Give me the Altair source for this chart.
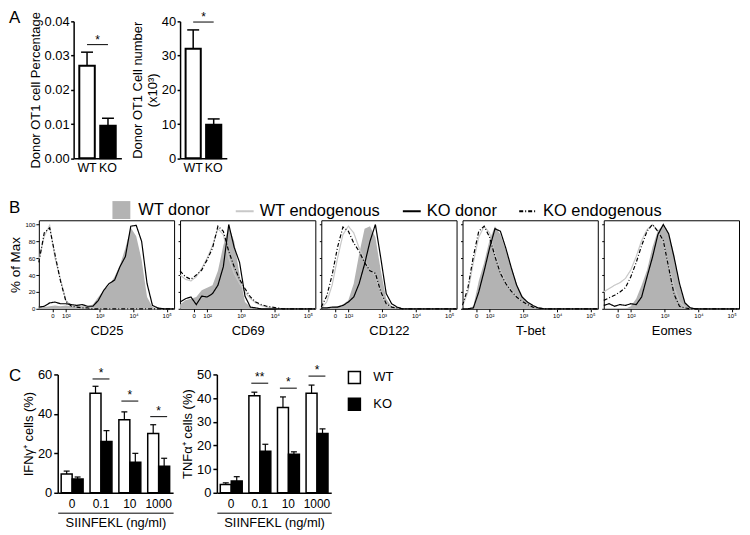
import altair as alt
import pandas as pd

FONT = "Liberation Sans"

# ---------------- Panel A data ----------------
genotypes = ["WT", "KO"]
pct_mean = [0.027, 0.0095]
pct_top = [0.031, 0.0117]
pct_sig = [0.0332]
num_mean = [32.0, 9.8]
num_top = [37.5, 11.5]
num_sig = [39.8]

# ---------------- Panel B data ----------------
hist_x = [0, 4, 8, 12, 16, 20, 24, 28, 32, 36, 40, 44, 48, 52, 56, 60, 64, 68, 72, 76, 80, 84, 88, 92, 96, 100]
markers = ["CD25", "CD69", "CD122", "T-bet", "Eomes"]
series_names = ["WT donor", "WT endogenous", "KO donor", "KO endogenous"]
line_series = ["WT endogenous", "KO donor", "KO endogenous"]
xtick_pos = [10, 20, 45, 70, 94.5]
xtick_labels = ["0", "10\u00b2", "10\u00b3", "10\u2074", "10\u2075"]

cd25_wt_donor = [3, 2, 3, 4, 3, 4, 3, 4, 3, 3, 5, 14, 22, 28, 38, 52, 72, 96, 86, 58, 14, 2, 0, 0, 0, 0]
cd25_wt_endo = [57, 86, 99, 60, 35, 10, 3, 2, 2, 1, 1, 0, 0, 0, 0, 0, 0, 0, 0, 0, 0, 0, 0, 0, 0, 0]
cd25_ko_donor = [2, 3, 7, 8, 6, 6, 5, 4, 5, 3, 3, 10, 22, 30, 34, 50, 62, 98, 99, 80, 30, 4, 1, 0, 0, 0]
cd25_ko_endo = [55, 90, 96, 64, 33, 9, 3, 2, 1, 1, 0, 0, 0, 0, 0, 0, 0, 0, 0, 0, 0, 0, 0, 0, 0, 0]

cd69_wt_donor = [5, 10, 12, 14, 22, 25, 28, 45, 75, 98, 80, 40, 8, 2, 0, 0, 0, 0, 0, 0, 0, 0, 0, 0, 0, 0]
cd69_wt_endo = [40, 35, 33, 38, 48, 60, 75, 95, 88, 60, 42, 30, 20, 12, 7, 4, 2, 1, 0, 0, 0, 0, 0, 0, 0, 0]
cd69_ko_donor = [8, 12, 14, 5, 15, 14, 18, 28, 50, 100, 73, 55, 15, 2, 1, 0, 0, 0, 0, 0, 0, 0, 0, 0, 0, 0]
cd69_ko_endo = [45, 38, 35, 40, 46, 58, 72, 98, 92, 68, 50, 35, 24, 14, 8, 5, 3, 2, 1, 0, 0, 0, 0, 0, 0, 0]

cd122_wt_donor = [0, 1, 2, 3, 5, 10, 30, 65, 95, 98, 85, 45, 12, 3, 1, 0, 0, 0, 0, 0, 0, 0, 0, 0, 0, 0]
cd122_wt_endo = [1, 8, 28, 60, 88, 98, 90, 72, 58, 46, 40, 18, 5, 2, 1, 0, 0, 0, 0, 0, 0, 0, 0, 0, 0, 0]
cd122_ko_donor = [1, 1, 2, 2, 4, 8, 14, 30, 53, 80, 100, 60, 18, 6, 2, 0, 0, 0, 0, 0, 0, 0, 0, 0, 0, 0]
cd122_ko_endo = [2, 15, 40, 73, 97, 92, 78, 68, 55, 45, 42, 20, 6, 2, 1, 0, 0, 0, 0, 0, 0, 0, 0, 0, 0, 0]

tbet_wt_donor = [0, 0, 3, 33, 55, 82, 98, 88, 70, 50, 30, 16, 8, 3, 1, 0, 0, 0, 0, 0, 0, 0, 0, 0, 0, 0]
tbet_wt_endo = [3, 20, 55, 85, 98, 90, 65, 45, 32, 22, 15, 9, 5, 2, 1, 0, 0, 0, 0, 0, 0, 0, 0, 0, 0, 0]
tbet_ko_donor = [0, 0, 1, 20, 45, 72, 95, 92, 72, 49, 28, 14, 8, 4, 1, 0, 0, 0, 0, 0, 0, 0, 0, 0, 0, 0]
tbet_ko_endo = [4, 25, 62, 92, 98, 85, 62, 42, 30, 21, 14, 9, 5, 2, 1, 0, 0, 0, 0, 0, 0, 0, 0, 0, 0, 0]

eomes_wt_donor = [0, 0, 0, 0, 0, 3, 12, 28, 46, 73, 93, 99, 90, 65, 28, 8, 2, 0, 0, 0, 0, 0, 0, 0, 0, 0]
eomes_wt_endo = [20, 24, 28, 31, 36, 46, 62, 81, 94, 100, 92, 78, 52, 25, 8, 2, 0, 0, 0, 0, 0, 0, 0, 0, 0, 0]
eomes_ko_donor = [4, 6, 3, 5, 4, 6, 5, 14, 38, 61, 88, 100, 89, 61, 30, 7, 1, 0, 0, 0, 0, 0, 0, 0, 0, 0]
eomes_ko_endo = [10, 13, 16, 20, 25, 38, 55, 75, 92, 100, 92, 81, 49, 17, 3, 1, 0, 0, 0, 0, 0, 0, 0, 0, 0, 0]

# ---------------- Panel C data ----------------
doses = ["0", "0.1", "10", "1000"]
ifn_wt = [9.5, 50.5, 37.0, 30.0]
ifn_wt_top = [11.0, 54.0, 41.0, 34.5]
ifn_ko = [7.0, 26.0, 15.5, 13.5]
ifn_ko_top = [8.0, 31.5, 20.0, 17.5]
ifn_sig_doses = ["0.1", "10", "1000"]
ifn_sig_y = [57.7, 46.5, 38.6]
ifn_sig_text = ["*", "*", "*"]
tnf_wt = [3.5, 41.0, 36.0, 42.0]
tnf_wt_top = [4.2, 42.5, 40.5, 45.5]
tnf_ko = [5.0, 17.5, 16.3, 25.0]
tnf_ko_top = [6.8, 20.5, 17.3, 27.0]
tnf_sig_doses = ["0.1", "10", "1000"]
tnf_sig_y = [46.3, 44.2, 49.3]
tnf_sig_text = ["**", "*", "*"]


# ---------------- helpers ----------------
def ind(c):
    return c.resolve_scale(fill="independent", stroke="independent", strokeDash="independent")


def blank(w, h, letter=None, dy=0):
    c = alt.Chart(pd.DataFrame({"v": [0]})).mark_point(opacity=0)
    if letter:
        return c.properties(width=w, height=h,
                            title=alt.TitleParams(letter, anchor="start", fontSize=17, fontWeight="normal",
                                                  font=FONT, offset=0, dy=dy, baseline="middle",
                                                  color="black"))
    return c.properties(width=w, height=h)


def a_chart(means, tops, sig, ymax, yvals, yfmt, ytitle, width, height):
    df = pd.DataFrame({"g": genotypes, "mean": means, "top": tops})
    sdf = pd.DataFrame({"x1": [genotypes[0]], "x2": [genotypes[1]], "sig": sig, "label": ["*"]})
    xscale = alt.Scale(domain=genotypes, paddingInner=0.26, paddingOuter=0.27)
    xaxis = alt.Axis(title=None, labelAngle=0, ticks=False, labelFontSize=12.5, labelPadding=3,
                     domainWidth=1.5)
    yscale = alt.Scale(domain=[0, ymax], nice=False)
    yaxis = alt.Axis(values=yvals, format=yfmt, title=ytitle, labelFontSize=13, titleFontSize=13,
                     tickSize=3, tickWidth=1.5, domainWidth=1.5, labelPadding=1.5, titlePadding=2,
                     titleLineHeight=15)

    def X(f):
        return alt.X(f"{f}:N", scale=xscale, axis=xaxis, sort=genotypes)

    def Y(f):
        return alt.Y(f"{f}:Q", scale=yscale, axis=yaxis)

    bars = alt.Chart(df).mark_bar(stroke="black", strokeWidth=2).encode(
        x=X("g"), y=Y("mean"),
        fill=alt.Fill("g:N", scale=alt.Scale(domain=genotypes, range=["white", "black"]), legend=None))
    err = alt.Chart(df).mark_rule(color="black", strokeWidth=1.5).encode(x=X("g"), y=Y("mean"), y2="top:Q")
    cap = alt.Chart(df).mark_tick(color="black", opacity=1, orient="horizontal", size=12, thickness=1.5).encode(
        x=X("g"), y=Y("top"))
    line = alt.Chart(sdf).mark_rule(color="black", strokeWidth=1).encode(x=X("x1"), x2="x2:N", y=Y("sig"))
    star = alt.Chart(sdf).mark_text(fontSize=12, baseline="alphabetic", dy=-1, dx=10.5, fill="black").encode(
        x=X("x1"), y=Y("sig"), text="label:N")
    return alt.layer(bars, err, cap, line, star).properties(width=width, height=height)


donor_fill = alt.Scale(domain=["WT donor"], range=["#b3b3b3"])
line_stroke = alt.Scale(domain=line_series, range=["#c8c8c8", "black", "black"])
line_dash = alt.Scale(domain=line_series, range=[[1, 0], [1, 0], [4, 2, 1, 2]])

hist_values = {
    "CD25": [cd25_wt_donor, cd25_wt_endo, cd25_ko_donor, cd25_ko_endo],
    "CD69": [cd69_wt_donor, cd69_wt_endo, cd69_ko_donor, cd69_ko_endo],
    "CD122": [cd122_wt_donor, cd122_wt_endo, cd122_ko_donor, cd122_ko_endo],
    "T-bet": [tbet_wt_donor, tbet_wt_endo, tbet_ko_donor, tbet_ko_endo],
    "Eomes": [eomes_wt_donor, eomes_wt_endo, eomes_ko_donor, eomes_ko_endo],
}
rows = []
for m in markers:
    for s, ys in zip(series_names, hist_values[m]):
        for xv, yv in zip(hist_x, ys):
            rows.append({"marker": m, "series": s, "x": xv, "y": yv})
hist_df = pd.DataFrame(rows)

label_expr = ""
for p, l in zip(xtick_pos, xtick_labels):
    label_expr += f"datum.value == {p} ? '{l}' : "
label_expr += "''"

PW, PH = 136, 89


def hist_panel(marker, first):
    sub = hist_df[hist_df["marker"] == marker]
    xaxis = alt.Axis(values=xtick_pos, labelExpr=label_expr, title=marker, labelFontSize=6,
                     tickSize=3, labelPadding=1, titleFontSize=13, titlePadding=6, domain=False,
                     labelFlush=False, labelOverlap=False)
    if first:
        yaxis = alt.Axis(values=[0, 20, 40, 60, 80, 100], labelFontSize=6, tickSize=3, labelPadding=1,
                         title="% of Max", titleFontSize=13.5, titlePadding=2, domain=False)
    else:
        yaxis = alt.Axis(values=[0, 20, 40, 60, 80, 100], labels=False, tickSize=2, title=None, domain=False)
    xenc = alt.X("x:Q", scale=alt.Scale(domain=[0, 100], nice=False, zero=False), axis=xaxis)
    yenc = alt.Y("y:Q", scale=alt.Scale(domain=[0, 105], nice=False), axis=yaxis)
    if first:
        leg_fill = alt.Legend(orient="none", legendX=74, legendY=-19.3, title=None, symbolType="square",
                              symbolSize=324, symbolStrokeWidth=0, labelFontSize=16.5, labelFont=FONT,
                              labelColor="black", labelOffset=8, padding=0)
        leg_line = alt.Legend(orient="none", legendX=197, legendY=-19.3, direction="horizontal", title=None,
                              symbolType="stroke", symbolSize=324, symbolStrokeWidth=2, labelFontSize=16.5,
                              labelFont=FONT, labelColor="black", labelOffset=5, columnPadding=18, padding=0)
    else:
        leg_fill = None
        leg_line = None
    area = alt.Chart(sub[sub["series"] == "WT donor"]).mark_area(opacity=1).encode(
        x=xenc, y=yenc, fill=alt.Fill("series:N", scale=donor_fill, legend=leg_fill))
    lines = alt.Chart(sub[sub["series"] != "WT donor"]).mark_line(strokeWidth=1.2).encode(
        x=xenc, y=yenc,
        stroke=alt.Stroke("series:N", scale=line_stroke, legend=leg_line),
        strokeDash=alt.StrokeDash("series:N", scale=line_dash, legend=leg_line))
    return alt.layer(area, lines).properties(width=PW, height=PH,
                                             view=alt.ViewBackground(stroke="black", strokeWidth=1))


def c_chart(wt, wt_top, ko, ko_top, sig_doses, sig_y, sig_text, ymax, yvals, ytitle, width, height, legend):
    df = pd.DataFrame({"dose": doses * 2, "g": ["WT"] * 4 + ["KO"] * 4,
                       "mean": wt + ko, "top": wt_top + ko_top})
    sdf = pd.DataFrame({"dose": sig_doses, "sig": sig_y, "label": sig_text})
    xscale = alt.Scale(domain=doses, paddingInner=0.24, paddingOuter=0.12)
    xaxis = alt.Axis(title=None, labelAngle=0, ticks=False, labelFontSize=12, labelPadding=6,
                     domainWidth=1.5, orient="bottom")
    yscale = alt.Scale(domain=[0, ymax], nice=False)
    yaxis = alt.Axis(values=yvals, title=ytitle, labelFontSize=13, titleFontSize=13, tickSize=4,
                     tickWidth=1.5, domainWidth=1.5, labelPadding=2, titlePadding=2)
    X = alt.X("dose:N", scale=xscale, axis=xaxis, sort=doses)
    XO = alt.XOffset("g:N", scale=alt.Scale(domain=genotypes, paddingInner=0, paddingOuter=0), sort=genotypes)

    def Y(f):
        return alt.Y(f"{f}:Q", scale=yscale, axis=yaxis)

    bars = alt.Chart(df).mark_bar(stroke="black", strokeWidth=1.5).encode(
        x=X, xOffset=XO, y=Y("mean"),
        fill=alt.Fill("g:N", scale=alt.Scale(domain=genotypes, range=["white", "black"]), legend=legend))
    err = alt.Chart(df).mark_rule(color="black", strokeWidth=1.2).encode(x=X, xOffset=XO, y=Y("mean"), y2="top:Q")
    cap = alt.Chart(df).mark_tick(color="black", opacity=1, orient="horizontal", size=6, thickness=1.2).encode(
        x=X, xOffset=XO, y=Y("top"))
    sig = alt.Chart(sdf).mark_tick(color="black", opacity=1, orient="horizontal", size=17, thickness=1).encode(
        x=X, y=Y("sig"))
    star = alt.Chart(sdf).mark_text(fontSize=12, baseline="alphabetic", dy=-2, fill="black").encode(
        x=X, y=Y("sig"), text="label:N")
    X2 = alt.X("dose:N", scale=xscale, sort=doses,
               axis=alt.Axis(orient="bottom", offset=20, labels=False, ticks=False, domain=True,
                             domainWidth=1, title="SIINFEKL (ng/ml)", titleFontSize=13, titlePadding=4))
    ax2 = alt.Chart(df).mark_point(opacity=0).encode(x=X2, y=Y("mean"))
    return alt.layer(alt.layer(bars, err, cap, sig, star), ax2).resolve_scale(x="independent").properties(
        width=width, height=height)


# ---------------- assemble ----------------
HA, HB, HC = 137.7, PH, 119

a1 = a_chart(pct_mean, pct_top, pct_sig, 0.04, [0, 0.01, 0.02, 0.03, 0.04], ".2f",
             "Donor OT1 cell Percentage", 48, HA)
a2 = a_chart(num_mean, num_top, num_sig, 40, [0, 10, 20, 30, 40], "d",
             ["Donor OT1 Cell number", "(x10\u00b3)"], 47, HA)

panels = [hist_panel(m, i == 0) for i, m in enumerate(markers)]

c_legend = alt.Legend(orient="none", legendX=131.3, legendY=-4, direction="vertical", title=None,
                      symbolType="square", symbolSize=144, symbolStrokeColor="black", symbolStrokeWidth=1.5,
                      labelFontSize=13, labelOffset=12, rowPadding=9, padding=0, labelColor="black")
c1 = c_chart(ifn_wt, ifn_wt_top, ifn_ko, ifn_ko_top, ifn_sig_doses, ifn_sig_y, ifn_sig_text,
             60, [0, 20, 40, 60], "IFN\u03b3\u207a cells (%)", 116, HC, None)
c2 = c_chart(tnf_wt, tnf_wt_top, tnf_ko, tnf_ko_top, tnf_sig_doses, tnf_sig_y, tnf_sig_text,
             50, [0, 10, 20, 30, 40, 50], "TNF\u03b1\u207a cells (%)", 115, HC, c_legend)

GB = 5.5
rowA = ind(alt.hconcat(blank(64.7, 177.4, "A", 14), a1, blank(58.3, 1), a2,
                       spacing=0, bounds="flush"))
rowB = ind(alt.hconcat(blank(30, 143.6, "B", 4.2), panels[0], blank(GB, 1), panels[1], blank(GB, 1),
                       panels[2], blank(GB, 1), panels[3], blank(GB, 1), panels[4],
                       spacing=0, bounds="flush"))
rowC = ind(alt.hconcat(blank(48.7, HC, "C", 18.8), c1, blank(44, 1), c2, spacing=0, bounds="flush"))

top = ind(alt.vconcat(rowA, rowB, rowC, spacing=0, bounds="full"))

chart = top.properties(
    padding={"left": 0, "top": 0, "right": 0, "bottom": 0}
).configure(font=FONT).configure_view(stroke="transparent").configure_axis(
    grid=False, domainColor="black", tickColor="black", labelColor="black", titleColor="black",
    titleFontWeight="normal", labelFont=FONT, titleFont=FONT
).configure_text(font=FONT)

chart.save("out.html", embed_options={"renderer": "svg", "actions": False})
